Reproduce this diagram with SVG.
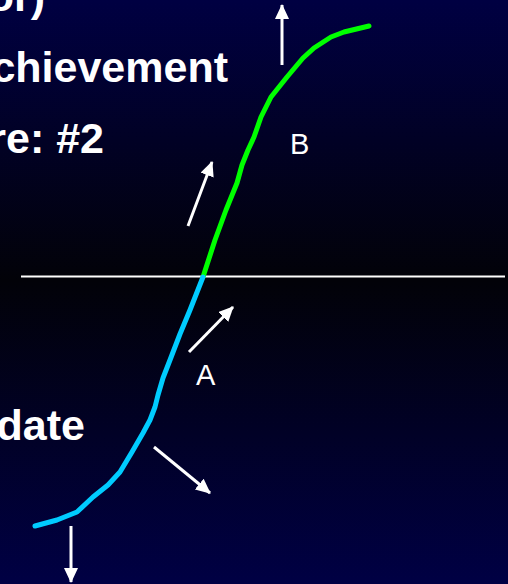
<svg xmlns="http://www.w3.org/2000/svg" width="508" height="584" viewBox="0 0 508 584">
  <defs>
    <linearGradient id="bg" x1="0" y1="0" x2="0" y2="1">
      <stop offset="0" stop-color="#000042"/>
      <stop offset="0.48" stop-color="#020208"/>
      <stop offset="1" stop-color="#000044"/>
    </linearGradient>
    <marker id="ah" viewBox="0 0 15 14" markerWidth="15" markerHeight="14" refX="14" refY="7" orient="auto" markerUnits="userSpaceOnUse">
      <path d="M0,0 L15,7 L0,14 z" fill="#ffffff"/>
    </marker>
    <style>
      .big { font-family: "Liberation Sans", Arial, sans-serif; font-weight: bold; font-size: 43px; fill: #ffffff; text-anchor: end; }
      .lbl { font-family: "Liberation Sans", Arial, sans-serif; font-size: 29px; fill: #ffffff; }
      .arr { stroke: #ffffff; stroke-width: 3; fill: none; marker-end: url(#ah); }
      .curve { fill: none; stroke-width: 5; stroke-linecap: round; stroke-linejoin: round; }
    </style>
  </defs>
  <rect x="0" y="0" width="508" height="584" fill="url(#bg)"/>

  <g id="text">
    <text class="big" x="45" y="11">or)</text>
    <text class="big" x="228" y="82">chievement</text>
    <text class="big" x="104" y="153">re: #2</text>
    <text class="big" x="85" y="440">date</text>
  </g>

  <g id="axis">
    <line x1="21" y1="276.5" x2="505" y2="276.5" stroke="#ffffff" stroke-width="2"/>
  </g>

  <g id="curve-B">
    <path class="curve" stroke="#00ff00" d="M203,277 L215,240 L226,210 L237,183 L242,165 L248,150 L254,137 L261,117 L271,97 L287,77 L303,58 L314,48 L331,37 L344,32 L369,26"/>
  </g>
  <g id="curve-A">
    <path class="curve" stroke="#00ccff" d="M203,277 L190,310 L180,334 L170,360 L163,378 L158,395 L155,407 L150,420 L143,433 L132,452 L120,472 L108,485 L93,497 L77,512 L57,520 L35,526"/>
  </g>

  <g id="label-B"><text class="lbl" x="290" y="154">B</text></g>
  <g id="label-A"><text class="lbl" x="196" y="385">A</text></g>

  <g id="connectors">
    <line class="arr" x1="282" y1="65" x2="282" y2="5"/>
    <line class="arr" x1="188" y1="226" x2="212" y2="162"/>
    <line class="arr" x1="189" y1="352" x2="233" y2="307"/>
    <line class="arr" x1="154" y1="447" x2="210" y2="493"/>
    <line class="arr" x1="71" y1="526" x2="71" y2="582"/>
  </g>
</svg>
